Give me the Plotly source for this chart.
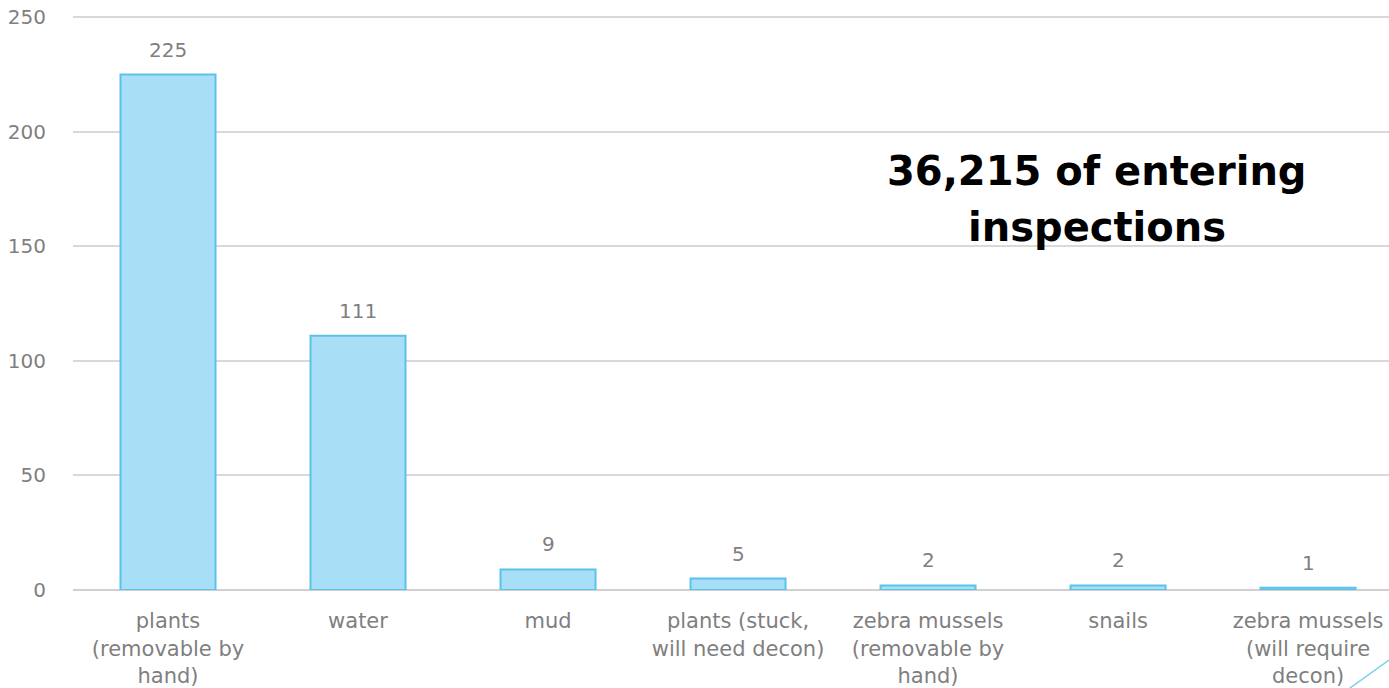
import plotly.graph_objects as go

categories = [
    "plants<br>(removable by<br>hand)",
    "water",
    "mud",
    "plants (stuck,<br>will need decon)",
    "zebra mussels<br>(removable by<br>hand)",
    "snails",
    "zebra mussels<br>(will require<br>decon)",
]
values = [225, 111, 9, 5, 2, 2, 1]
y_ticks = [0, 50, 100, 150, 200, 250]
note_lines = ["36,215 of entering", "inspections"]

gray = "#7f7f7f"
font_family = "DejaVu Sans"

fig = go.Figure()
fig.add_trace(go.Bar(
    x=list(range(len(categories))),
    y=values,
    width=0.5,
    marker=dict(color="#a8dff6", line=dict(color="#5bc2ea", width=2)),
    hoverinfo="skip",
))

for i, v in enumerate(values):
    fig.add_annotation(x=i, y=v, text=str(v), showarrow=False, xref="x", yref="y",
                       yanchor="bottom", yshift=11,
                       font=dict(family=font_family, size=20, color=gray))

for k, line in enumerate(note_lines):
    fig.add_annotation(xref="paper", yref="paper", x=0.778, y=[0.729, 0.631][k],
                       text="<b>" + line + "</b>", showarrow=False,
                       xanchor="center", yanchor="middle", align="center",
                       font=dict(family=font_family, size=40, color="#000000"))

fig.add_shape(type="line", xref="paper", yref="paper",
              x0=0.970, y0=-0.171, x1=1.0, y1=-0.122,
              line=dict(color="#7fd0ee", width=1.5))

fig.update_layout(
    width=1389, height=688,
    margin=dict(l=73, r=0, t=15, b=98),
    paper_bgcolor="white", plot_bgcolor="white",
    showlegend=False,
    bargap=0.5,
    xaxis=dict(
        range=[-0.5, 6.426],
        tickmode="array", tickvals=list(range(len(categories))), ticktext=categories,
        tickfont=dict(family=font_family, size=21, color=gray),
        showgrid=False, zeroline=False, showline=False,
        ticks="outside", ticklen=12, tickcolor="rgba(0,0,0,0)",
        ticklabeloverflow="allow",
    ),
    yaxis=dict(
        range=[0, 251],
        tickmode="array", tickvals=y_ticks,
        tickfont=dict(family=font_family, size=20, color=gray),
        showgrid=True, gridcolor="#d9d9d9", gridwidth=1.5,
        zeroline=True, zerolinecolor="#d0d0d0", zerolinewidth=2,
        showline=False,
        ticks="outside", ticklen=22, tickcolor="rgba(0,0,0,0)",
        ticklabeloverflow="allow",
    ),
)

fig.write_html(
    "out.html",
    config={"displayModeBar": False},
    post_script="document.body.style.margin='0';document.body.style.overflow='hidden';",
)
